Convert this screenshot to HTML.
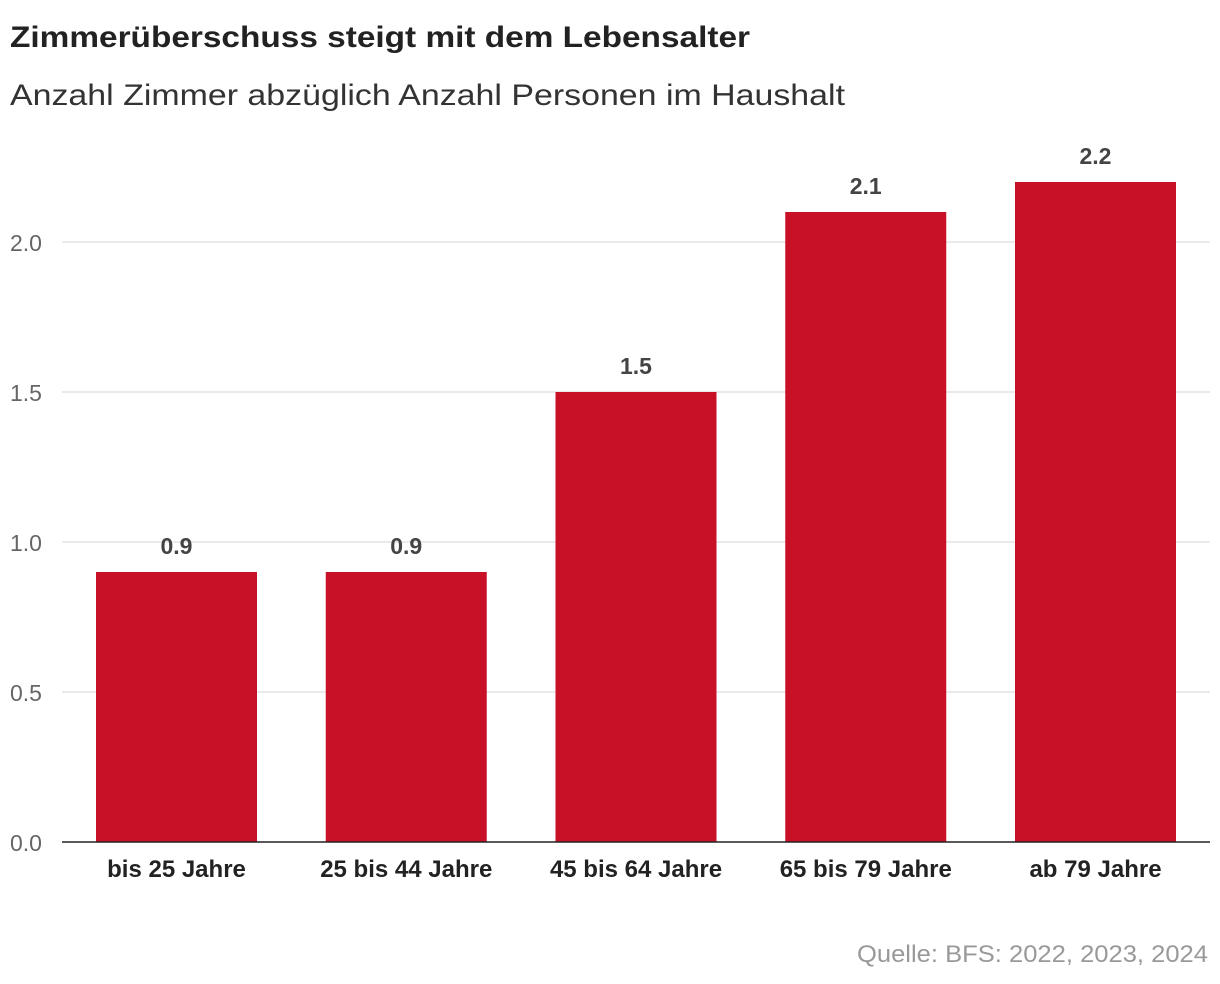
<!DOCTYPE html>
<html><head><meta charset="utf-8"><style>
body{margin:0;background:#fff;font-family:"Liberation Sans",sans-serif;}
svg{display:block}
</style></head><body>
<svg width="1220" height="984">
<text x="10" y="47" font-size="30" font-weight="bold" fill="#222" textLength="740" lengthAdjust="spacingAndGlyphs">Zimmerüberschuss steigt mit dem Lebensalter</text>
<text x="10" y="105" font-size="30" fill="#333" textLength="835" lengthAdjust="spacingAndGlyphs">Anzahl Zimmer abzüglich Anzahl Personen im Haushalt</text>
<g id="grid"></g><g id="bars"></g>
<text x="1208" y="962" font-size="24" fill="#999" text-anchor="end" textLength="351" lengthAdjust="spacingAndGlyphs">Quelle: BFS: 2022, 2023, 2024</text>
</svg>
<script>
const categories=["bis 25 Jahre","25 bis 44 Jahre","45 bis 64 Jahre","65 bis 79 Jahre","ab 79 Jahre"];
const values=[0.9,0.9,1.5,2.1,2.2];
const valueLabels=["0.9","0.9","1.5","2.1","2.2"];
const ticks=[0,0.5,1,1.5,2];
const tickLabels=["0.0","0.5","1.0","1.5","2.0"];
const NS="http://www.w3.org/2000/svg";
const x0=62,x1=1210,y0=842,pxPer=300;
const y=v=>y0-v*pxPer;
const step=229.75,first=176.5,bw=161;
const cx=i=>first+i*step;
function mk(t,a,p){const e=document.createElementNS(NS,t);for(const k in a)e.setAttribute(k,a[k]);p.appendChild(e);return e;}
const g=document.getElementById('grid'),b=document.getElementById('bars');
ticks.forEach((t,i)=>{
 if(t>0){const l=mk('line',{x1:x0,x2:x1,y1:y(t),y2:y(t),stroke:'#e3e3e3','stroke-width':1.5},g);
 
 }
 const tx=mk('text',{x:10,y:y(t)+9,'font-size':23,fill:'#666'},g);tx.textContent=tickLabels[i];
 
 
});
values.forEach((v,i)=>{
 const r=mk('rect',{x:cx(i)-bw/2,y:y(v),width:bw,height:y0-y(v),fill:'#c81127'},b);
 
 
 const t=mk('text',{x:cx(i),y:y(v)-18,'font-size':23,'font-weight':'bold',fill:'#444','text-anchor':'middle'},b);t.textContent=valueLabels[i];
 
 
 const c=mk('text',{x:cx(i),y:877,'font-size':24,'font-weight':'bold',fill:'#222','text-anchor':'middle'},b);c.textContent=categories[i];
 
 
});
const ax=mk('line',{x1:x0,x2:x1,y1:y0,y2:y0,stroke:'#222','stroke-width':1.5},b);


</script>
</body></html>
